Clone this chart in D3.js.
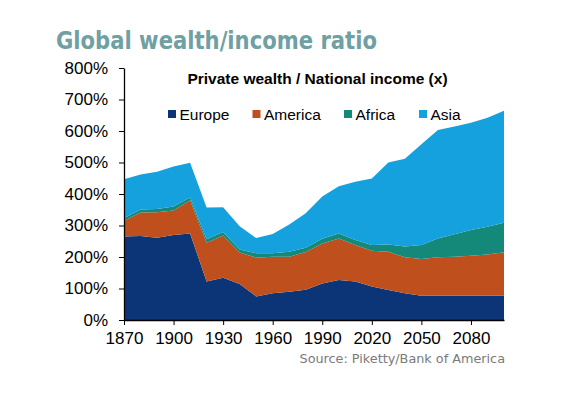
<!DOCTYPE html>
<html lang="en">
<head>
<meta charset="utf-8">
<style>
   body { margin: 0; background: #fff; }
   .tick text { font-family: "Liberation Sans", Arial, sans-serif; }
</style>
<script type='text/javascript' src='https://d3js.org/d3.v7.min.js'></script>
</head>
<body>
   <svg width="569" height="398"></svg>
   <script>
      // data, one value per decade
      var years = [1870, 1880, 1890, 1900, 1910, 1920, 1930, 1940, 1950, 1960, 1970, 1980,
                   1990, 2000, 2010, 2020, 2030, 2040, 2050, 2060, 2070, 2080, 2090, 2100];
      var europe  = [265, 267, 261, 270, 275, 122, 134, 114, 75, 85, 90, 96,
                     116, 127, 122, 106, 95, 85, 77, 77, 77, 77, 77, 78];
      var america = [50, 74, 81, 78, 105, 123, 134, 100, 123, 116, 111, 120,
                     127, 132, 116, 114, 122, 114, 117, 122, 124, 127, 131, 137];
      var africa  = [8, 10, 10, 12, 9, 11, 11, 10, 14, 11, 16, 13,
                     15, 16, 16, 18, 23, 34, 44, 60, 71, 82, 88, 94];
      var asia    = [124, 111, 119, 127, 110, 101, 79, 74, 48, 61, 86, 110,
                     134, 150, 185, 211, 260, 279, 320, 344, 342, 340, 346, 355];
      var seriesNames = ["Europe", "America", "Africa", "Asia"];
      var colors = ["#0b3577", "#bf501d", "#14897a", "#15a1dd"];
      var xTicks = [1870, 1900, 1930, 1960, 1990, 2020, 2050, 2080];
      var yTicks = [0, 100, 200, 300, 400, 500, 600, 700, 800];

      var svg = d3.select("svg");
      var font = "'Liberation Sans', Arial, sans-serif";

      // build rows for the stack
      var rows = years.map(function (y, i) {
         return { year: y, Europe: europe[i], America: america[i], Africa: africa[i], Asia: asia[i] };
      });
      var stacked = d3.stack().keys(seriesNames)(rows);

      var x = d3.scaleLinear().domain([1870, 2100]).range([124, 504]);
      var y = d3.scaleLinear().domain([0, 800]).range([320, 68]);

      var area = d3.area()
         .x(function (d) { return x(d.data.year); })
         .y0(function (d) { return y(d[0]); })
         .y1(function (d) { return y(d[1]); });

      svg.append("g").selectAll("path")
         .data(stacked)
         .enter().append("path")
         .attr("fill", function (d, i) { return colors[i]; })
         .attr("d", area);

      // x axis
      var gx = svg.append("g")
         .attr("transform", "translate(0,320)")
         .call(d3.axisBottom(x).tickValues(xTicks).tickFormat(d3.format("d")).tickSize(5).tickSizeOuter(0));
      gx.select(".domain").attr("stroke", "#000").attr("stroke-width", 1.3);
      gx.selectAll(".tick line").attr("stroke", "#000");
      gx.selectAll(".tick text").attr("font-size", "17px").attr("fill", "#000").attr("dy", "0.95em");

      // y axis
      var gy = svg.append("g")
         .attr("transform", "translate(124,0)")
         .call(d3.axisLeft(y).tickValues(yTicks).tickFormat(function (d) { return d + "%"; }).tickSize(5).tickSizeOuter(0));
      gy.select(".domain").attr("stroke", "#000").attr("stroke-width", 1.3);
      gy.selectAll(".tick line").attr("stroke", "#000");
      gy.selectAll(".tick text").attr("font-size", "17px").attr("fill", "#000").attr("x", -16);

      // title
      svg.append("text")
         .attr("x", 56)
         .attr("y", 49)
         .attr("font-family", "'DejaVu Sans Condensed', 'DejaVu Sans', sans-serif")
         .attr("font-stretch", "condensed")
         .attr("font-weight", "bold")
         .attr("font-size", "25px")
         .attr("textLength", 321)
         .attr("lengthAdjust", "spacingAndGlyphs")
         .attr("fill", "#6fa0a3")
         .text("Global wealth/income ratio");

      // subtitle inside plot
      svg.append("text")
         .attr("x", 317.5)
         .attr("y", 83.5)
         .attr("text-anchor", "middle")
         .attr("font-family", font)
         .attr("font-weight", "bold")
         .attr("font-size", "15.5px")
         .attr("fill", "#000")
         .text("Private wealth / National income (x)");

      // legend
      var legendX = [168, 252.5, 344, 419];
      var lg = svg.append("g").selectAll("g")
         .data(seriesNames)
         .enter().append("g")
         .attr("transform", function (d, i) { return "translate(" + legendX[i] + ",114)"; });
      lg.append("rect")
         .attr("x", 0).attr("y", -4)
         .attr("width", 8).attr("height", 8)
         .attr("fill", function (d, i) { return colors[i]; });
      lg.append("text")
         .attr("x", 11.5)
         .attr("y", 5.5)
         .attr("font-family", font)
         .attr("font-size", "15.5px")
         .attr("fill", "#000")
         .text(function (d) { return d; });

      // source note
      svg.append("text")
         .attr("x", 505)
         .attr("y", 363)
         .attr("text-anchor", "end")
         .attr("font-family", "'DejaVu Sans', Verdana, sans-serif")
         .attr("font-size", "12.8px")
         .attr("fill", "#7a7a7a")
         .text("Source: Piketty/Bank of America");
   </script>
</body>
</html>
